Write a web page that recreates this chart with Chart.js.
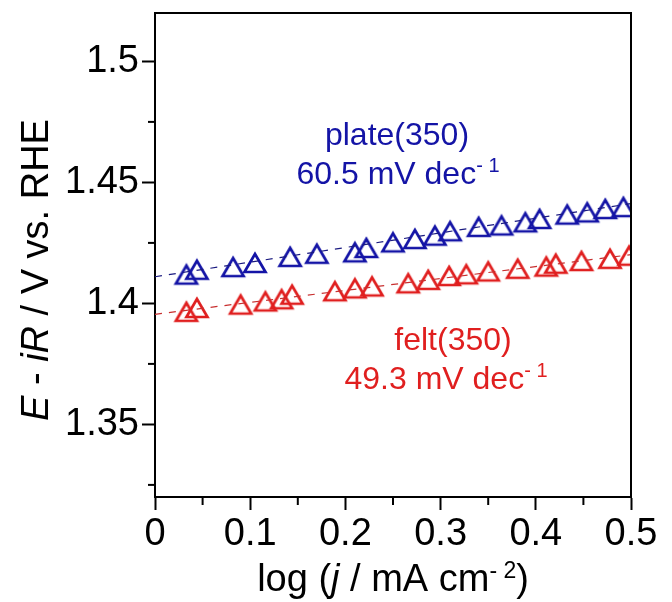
<!DOCTYPE html>
<html>
<head>
<meta charset="utf-8">
<script src="https://cdn.jsdelivr.net/npm/chart.js@4.4.1/dist/chart.umd.min.js"></script>
<style>
  html, body { margin: 0; padding: 0; background: #fff; }
  #tafel { display: block; }
</style>
</head>
<body>
<canvas id="tafel" width="672" height="602"></canvas>
<script>
// log(j / mA cm-2) vs. E - iR
const plateX = [0.033, 0.044, 0.082, 0.105, 0.142, 0.170, 0.210, 0.222, 0.250, 0.273,
                0.294, 0.310, 0.340, 0.364, 0.389, 0.404, 0.433, 0.454, 0.473, 0.492];
const plateY = [1.4119, 1.4139, 1.4150, 1.4167, 1.4192, 1.4205, 1.4211, 1.4229, 1.4252, 1.4266,
                1.4280, 1.4298, 1.4316, 1.4322, 1.4335, 1.4349, 1.4367, 1.4376, 1.4390, 1.4398];
const feltX = [0.033, 0.044, 0.090, 0.116, 0.133, 0.144, 0.189, 0.210, 0.228, 0.266,
               0.287, 0.309, 0.327, 0.350, 0.381, 0.411, 0.421, 0.448, 0.478, 0.498];
const feltY = [1.3965, 1.3981, 1.3995, 1.4008, 1.4017, 1.4036, 1.4050, 1.4062, 1.4070, 1.4083,
               1.4097, 1.4113, 1.4120, 1.4132, 1.4143, 1.4152, 1.4164, 1.4175, 1.4184, 1.4197];

// Tafel fits: [slope V/dec, value at log j = 0]
const plateFit = [0.0605, 1.4110];
const feltFit = [0.0493, 1.3955];

const xTicks = [0, 0.1, 0.2, 0.3, 0.4, 0.5];
const xMinorTicks = [0.05, 0.15, 0.25, 0.35, 0.45];
const yTicks = [1.35, 1.4, 1.45, 1.5];
const yMinorTicks = [1.325, 1.375, 1.425, 1.475];

const BLUE = '#1414a6';
const RED = '#e01f1f';
const FONT = "'Liberation Sans', Arial, sans-serif";

function triangleImage(color) {
    const c = document.createElement('canvas');
    c.width = 28;
    c.height = 26;
    const g = c.getContext('2d');
    g.strokeStyle = color;
    g.lineWidth = 2.7;
    g.lineJoin = 'miter';
    g.beginPath();
    g.moveTo(14, 4);
    g.lineTo(24.5, 22);
    g.lineTo(3.5, 22);
    g.closePath();
    g.stroke();
    return c;
}

function fitLine(fit) {
    const lo = xTicks[0], hi = xTicks[xTicks.length - 1];
    return [{ x: lo, y: fit[1] + fit[0] * lo }, { x: hi, y: fit[1] + fit[0] * hi }];
}

function pairs(xs, ys) {
    return xs.map((x, i) => ({ x: x, y: ys[i] }));
}

// draws text made of several runs (italic, superscript...) centred on x
function drawRuns(ctx, runs, x, y) {
    let total = 0;
    runs.forEach(r => {
        ctx.font = r.font;
        total += ctx.measureText(r.text).width;
    });
    let cx = x - total / 2;
    runs.forEach(r => {
        ctx.font = r.font;
        ctx.fillText(r.text, cx, y + (r.dy || 0));
        cx += ctx.measureText(r.text).width;
    });
}

const decorations = {
    id: 'decorations',
    afterDraw(chart) {
        const ctx = chart.ctx;
        const area = chart.chartArea;
        const xs = chart.scales.x, ys = chart.scales.y;
        ctx.save();

        // frame top + right
        ctx.strokeStyle = '#000';
        ctx.lineWidth = 2;
        ctx.beginPath();
        ctx.moveTo(area.left, area.top);
        ctx.lineTo(area.right, area.top);
        ctx.lineTo(area.right, area.bottom);
        ctx.stroke();

        // minor ticks
        xMinorTicks.forEach(v => {
            const px = xs.getPixelForValue(v);
            ctx.beginPath();
            ctx.moveTo(px, area.bottom);
            ctx.lineTo(px, area.bottom + 8);
            ctx.stroke();
        });
        yMinorTicks.forEach(v => {
            const py = ys.getPixelForValue(v);
            ctx.beginPath();
            ctx.moveTo(area.left, py);
            ctx.lineTo(area.left - 7, py);
            ctx.stroke();
        });

        ctx.textAlign = 'left';
        ctx.textBaseline = 'alphabetic';
        const big = '38px ' + FONT;
        const bigIt = 'italic 38px ' + FONT;
        const small = '23px ' + FONT;

        // x title
        ctx.fillStyle = '#000';
        drawRuns(ctx, [
            { text: 'log (', font: big },
            { text: 'j', font: bigIt },
            { text: ' / mA cm', font: big },
            { text: '- 2', font: small, dy: -13 },
            { text: ')', font: big }
        ], (area.left + area.right) / 2, 591);

        // y title
        ctx.save();
        ctx.translate(48, 270);
        ctx.rotate(-Math.PI / 2);
        drawRuns(ctx, [
            { text: 'E', font: bigIt },
            { text: ' - ', font: big },
            { text: 'iR', font: bigIt },
            { text: ' / V vs. RHE', font: big }
        ], 0, 0);
        ctx.restore();

        // annotations
        const ann = '32px ' + FONT;
        const annSup = '20px ' + FONT;
        ctx.fillStyle = BLUE;
        drawRuns(ctx, [{ text: 'plate(350)', font: ann }], 397, 145);
        drawRuns(ctx, [
            { text: '60.5 mV dec', font: ann },
            { text: '- 1', font: annSup, dy: -12 }
        ], 398, 184);
        ctx.fillStyle = RED;
        drawRuns(ctx, [{ text: 'felt(350)', font: ann }], 453, 350);
        drawRuns(ctx, [
            { text: '49.3 mV dec', font: ann },
            { text: '- 1', font: annSup, dy: -12 }
        ], 446, 389);

        ctx.restore();
    }
};

const axisBase = {
    type: 'linear',
    grid: {
        display: true,
        drawOnChartArea: false,
        drawTicks: true,
        tickLength: 13,
        tickColor: '#000',
        tickWidth: 2
    },
    border: { display: true, color: '#000', width: 2 },
    ticks: {
        color: '#000',
        font: { family: FONT, size: 38 },
        callback: v => String(v)
    }
};

new Chart(document.getElementById('tafel'), {
    type: 'scatter',
    data: {
        datasets: [
            {
                type: 'line',
                data: fitLine(plateFit),
                borderColor: '#1a1a80',
                borderWidth: 1.2,
                borderDash: [7, 7],
                pointRadius: 0,
                fill: false
            },
            {
                type: 'line',
                data: fitLine(feltFit),
                borderColor: '#c83030',
                borderWidth: 1.2,
                borderDash: [7, 7],
                pointRadius: 0,
                fill: false
            },
            {
                label: 'plate(350)',
                data: pairs(plateX, plateY),
                pointStyle: triangleImage(BLUE)
            },
            {
                label: 'felt(350)',
                data: pairs(feltX, feltY),
                pointStyle: triangleImage(RED)
            }
        ]
    },
    options: {
        responsive: false,
        animation: false,
        layout: { padding: { left: 0, right: 41, top: 13, bottom: 0 } },
        plugins: {
            legend: { display: false },
            tooltip: { enabled: false }
        },
        scales: {
            x: Object.assign({}, axisBase, {
                position: 'bottom',
                min: xTicks[0],
                max: xTicks[xTicks.length - 1],
                afterBuildTicks: s => { s.ticks = xTicks.map(v => ({ value: v })); },
                afterFit: s => {
                    s.height = 105;
                    s.paddingLeft = 0;
                    s.paddingRight = 0;
                },
                ticks: Object.assign({}, axisBase.ticks, { padding: 2, maxRotation: 0 })
            }),
            y: Object.assign({}, axisBase, {
                position: 'left',
                min: 1.32,
                max: 1.52,
                afterBuildTicks: s => { s.ticks = yTicks.map(v => ({ value: v })); },
                afterFit: s => {
                    s.width = 155;
                    s.paddingTop = 0;
                    s.paddingBottom = 0;
                },
                ticks: Object.assign({}, axisBase.ticks, { padding: 3 })
            })
        }
    },
    plugins: [decorations]
});
</script>
</body>
</html>
